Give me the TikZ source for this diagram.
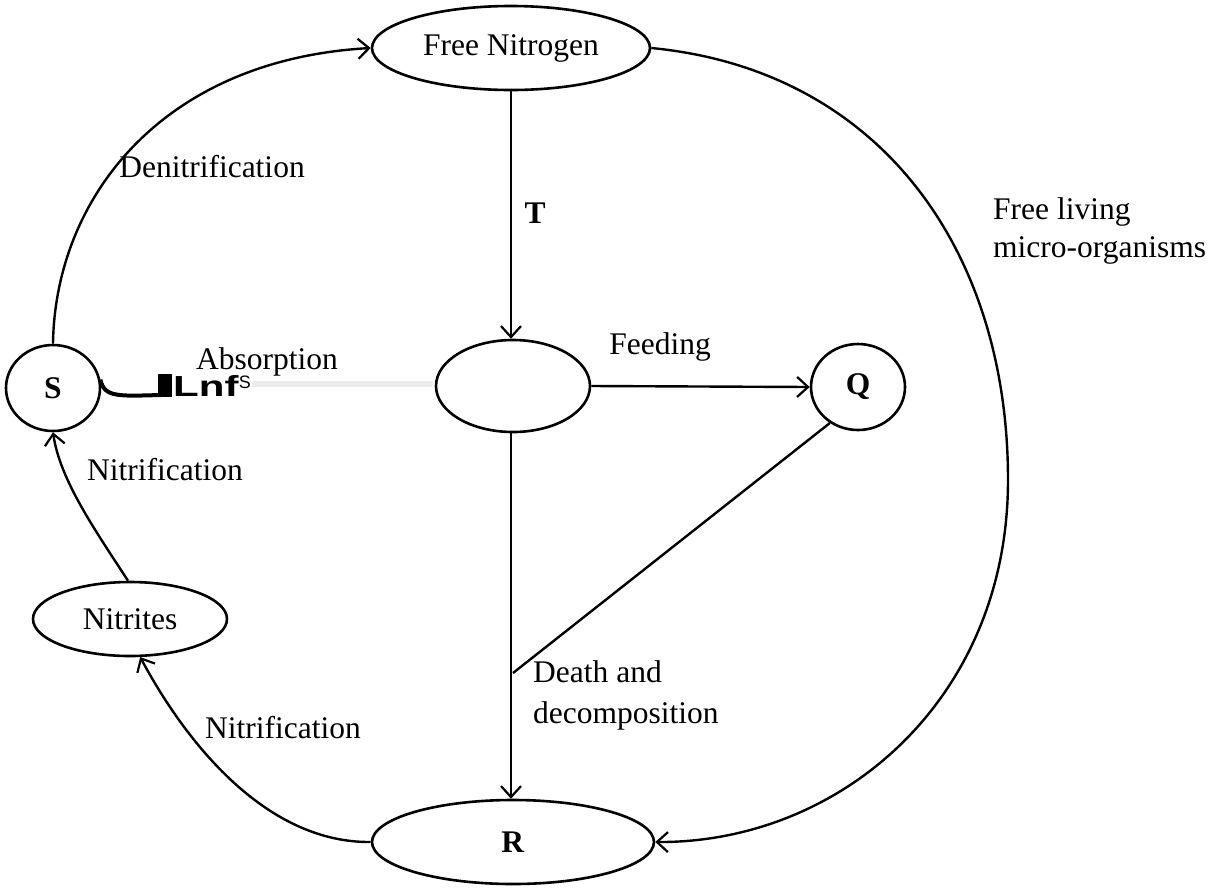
\documentclass[tikz,border=0pt]{standalone}
\usepackage{fontspec}
\setmainfont{Liberation Serif}
\newfontfamily\artfont{Liberation Sans}
\usetikzlibrary{arrows.meta,shapes.geometric}
\begin{document}
\begin{tikzpicture}[x=1pt,y=-1pt,
  every node/.style={font=\fontsize{31.5}{38}\selectfont},
  oval/.style={draw, ellipse, line width=2.6pt, inner sep=0pt},
  conn/.style={line width=2.4pt},
  arr/.style={conn, -{Straight Barb[length=11pt,width=20pt,line width=2.2pt]}},
  lbl/.style={inner sep=0pt}
]
\useasboundingbox (0,0) rectangle (1216,887);
% nodes
\node[oval, minimum width=278pt, minimum height=84pt] (FN) at (511,48) {Free Nitrogen};
\node[oval, minimum width=94pt, minimum height=86pt] (S) at (53,388) {\textbf{S}};
\node[oval, minimum width=154pt, minimum height=92pt] (C) at (513,386) {};
\node[oval, minimum width=94pt, minimum height=86pt] (Q) at (858,387) {\textbf{Q}};
\node[oval, minimum width=194pt, minimum height=74pt] (NI) at (130,619) {Nitrites};
\node[oval, minimum width=282pt, minimum height=84pt] (R) at (513,842) {\textbf{R}};
\coordinate (J) at (513,673);
% connectors
\draw[arr] (S.north) .. controls (55,200) and (160,60) .. (FN.west);
\draw[arr] (FN.east) .. controls (880,70) and (1008,250) .. (1008,480)
  .. controls (1008,700) and (840,843) .. (R.east);
\draw[arr] (FN.south -| 511,0) -- (C.north -| 511,0);
\draw[arr] (C.east) -- (Q.west);
\draw[arr] (C.south -| 511,0) -- (R.north -| 511,0);
\draw[conn] (Q.232) -- (J);
\draw[arr] (NI.north -| 128,0) .. controls (95,530) and (60,480) .. (S.south);
\draw[arr] (R.west) .. controls (270,843) and (190,750) .. (NI.285);
% faint erased connector
\draw[gray!15, line width=6pt] (252,384) -- (433,384);
% artefact
\draw[line width=4pt] (S.10) .. controls (104,398) and (120,396) .. (161,395);
\fill (158,374) rectangle (172,397);
\node[lbl, anchor=south west, font=\artfont\bfseries\fontsize{29}{29}\selectfont] (art) at (173,397) {\scalebox{1.45}[1]{Lnf}};
\node[lbl, anchor=north west, font=\artfont\fontsize{18}{18}\selectfont] (art2) at (art.north east) {S};
% labels
\node[lbl] (den) at (212,167) {Denitrification};
\node[lbl] (T) at (535,213) {\textbf{T}};
\node[lbl, anchor=west, align=left] (fl) at (993,231) {Free living\\micro-organisms};
\node[lbl] (abs) at (267,362) {Absorption};
\node[lbl] (feed) at (660,347) {Feeding};
\node[lbl] (nit1) at (165,470) {Nitrification};
\node[lbl] (nit2) at (283,728) {Nitrification};
\node[lbl, anchor=west, align=left] (dd) at (533,695) {Death and\\[3pt]decomposition};
\end{tikzpicture}
\end{document}
